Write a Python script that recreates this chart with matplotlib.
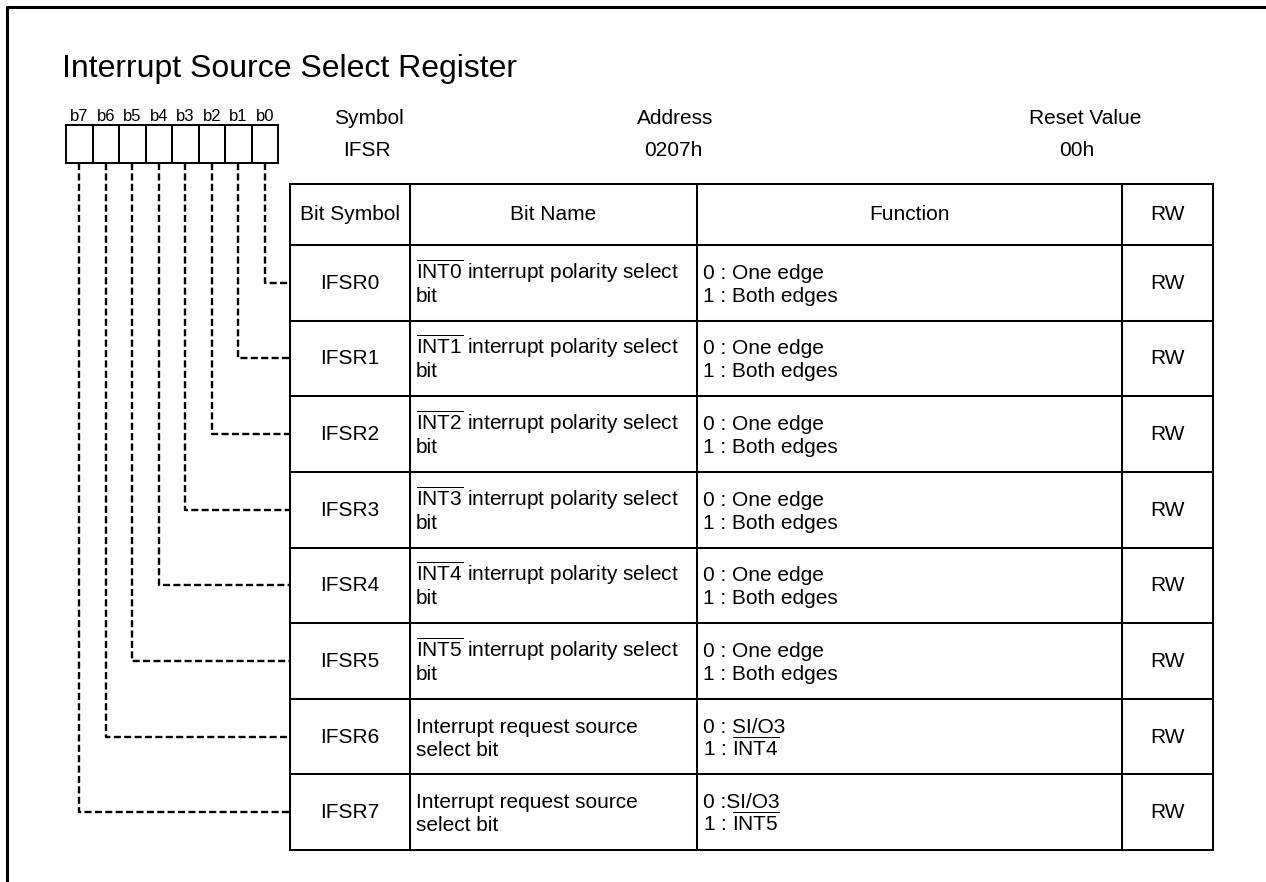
import matplotlib
matplotlib.use("Agg")
import matplotlib.pyplot as plt

plt.rcParams['font.family'] = ['Liberation Sans', 'DejaVu Sans']
plt.rcParams['mathtext.fontset'] = 'custom'
plt.rcParams['mathtext.rm'] = 'Liberation Sans'
plt.rcParams['mathtext.it'] = 'Liberation Sans'

# register content
title = "Interrupt Source Select Register"
bit_labels = ["b7", "b6", "b5", "b4", "b3", "b2", "b1", "b0"]
header_keys = ["Symbol", "Address", "Reset Value"]
header_vals = ["IFSR", "0207h", "00h"]
col_heads = ["Bit Symbol", "Bit Name", "Function", "RW"]
bit_symbols = ["IFSR0", "IFSR1", "IFSR2", "IFSR3", "IFSR4", "IFSR5", "IFSR6", "IFSR7"]
bit_names = [
    [r"$\overline{\mathrm{INT0}}$ interrupt polarity select", "bit"],
    [r"$\overline{\mathrm{INT1}}$ interrupt polarity select", "bit"],
    [r"$\overline{\mathrm{INT2}}$ interrupt polarity select", "bit"],
    [r"$\overline{\mathrm{INT3}}$ interrupt polarity select", "bit"],
    [r"$\overline{\mathrm{INT4}}$ interrupt polarity select", "bit"],
    [r"$\overline{\mathrm{INT5}}$ interrupt polarity select", "bit"],
    ["Interrupt request source", "select bit"],
    ["Interrupt request source", "select bit"],
]
functions = [
    ["0 : One edge", "1 : Both edges"],
    ["0 : One edge", "1 : Both edges"],
    ["0 : One edge", "1 : Both edges"],
    ["0 : One edge", "1 : Both edges"],
    ["0 : One edge", "1 : Both edges"],
    ["0 : One edge", "1 : Both edges"],
    ["0 : SI/O3", r"1 : $\overline{\mathrm{INT4}}$"],
    ["0 :SI/O3", r"1 : $\overline{\mathrm{INT5}}$"],
]
rw = ["RW"] * 8

# layout (pixel coords, y down)
W, H = 1266, 882
col_x = [290, 410, 697, 1122, 1213]
head_top, head_bot, tab_bot = 184, 245, 850
row_h = (tab_bot - head_bot) / len(bit_symbols)
box_left, box_right, box_top, box_bot = 66, 278, 125, 163
box_w = (box_right - box_left) / len(bit_labels)
fs = 15

fig = plt.figure(figsize=(W / 100, H / 100), dpi=100)
ax = fig.add_axes([0, 0, 1, 1])
ax.set_xlim(0, W)
ax.set_ylim(H, 0)
ax.axis("off")

# outer frame (left and top)
ax.plot([7, 7, W + 5], [H + 5, 7, 7], color="black", lw=2.2, solid_capstyle="butt")

ax.text(62, 77, title, fontsize=23, ha="left", va="baseline")

# bit boxes
for i, lab in enumerate(bit_labels):
    x0 = box_left + i * box_w
    ax.add_patch(plt.Rectangle((x0, box_top), box_w, box_bot - box_top,
                               fill=False, ec="black", lw=1.4))
    ax.text(x0 + box_w / 2, 121, lab, fontsize=12, ha="center", va="baseline")

# header info
key_x = [369, 675, 1085]
val_x = [367, 673, 1077]
for k, v, kx, vx in zip(header_keys, header_vals, key_x, val_x):
    ax.text(kx, 124, k, fontsize=fs, ha="center", va="baseline")
    ax.text(vx, 156, v, fontsize=fs, ha="center", va="baseline")

# table grid
lw = 1.45
for y in [head_top, head_bot] + [head_bot + (r + 1) * row_h for r in range(len(bit_symbols))]:
    ax.plot([col_x[0], col_x[-1]], [y, y], color="black", lw=lw, solid_capstyle="projecting")
for x in col_x:
    ax.plot([x, x], [head_top, tab_bot], color="black", lw=lw, solid_capstyle="projecting")

for c, head in enumerate(col_heads):
    ax.text((col_x[c] + col_x[c + 1]) / 2, 220, head,
            fontsize=fs, ha="center", va="baseline")

for r in range(len(bit_symbols)):
    yc = head_bot + (r + 0.5) * row_h
    ax.text((col_x[0] + col_x[1]) / 2, yc + 6, bit_symbols[r], fontsize=fs,
            ha="center", va="baseline")
    for j, line in enumerate(bit_names[r]):
        ax.text(col_x[1] + 6, yc - 4 + j * 23, line, fontsize=fs, ha="left",
                va="baseline")
    for j, line in enumerate(functions[r]):
        ax.text(col_x[2] + 6, yc - 4 + j * 23, line, fontsize=fs, ha="left",
                va="baseline")
    ax.text((col_x[3] + col_x[4]) / 2, yc + 6, rw[r], fontsize=fs,
            ha="center", va="baseline")

# dashed leader lines from bit boxes to rows
for r in range(len(bit_symbols)):
    bx = box_right - (r + 0.5) * box_w
    yc = head_bot + (r + 0.5) * row_h
    ax.plot([bx, bx, col_x[0]], [box_bot, yc, yc], color="black", lw=1.7,
            dashes=(3.0, 1.4))

fig.savefig("out.png", dpi=100)
